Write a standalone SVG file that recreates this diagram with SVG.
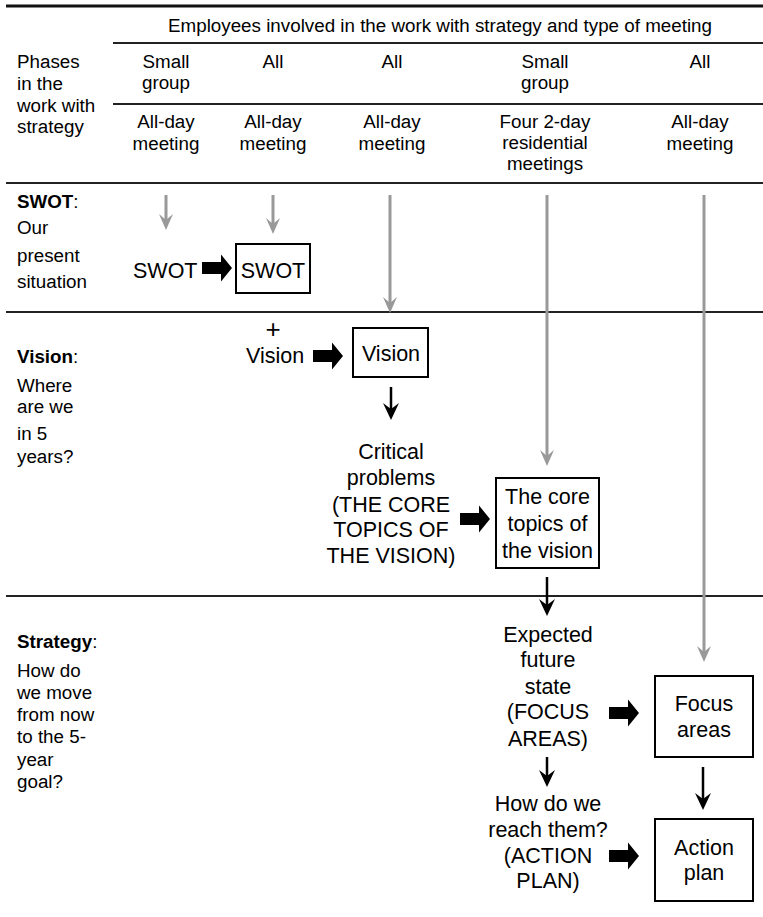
<svg xmlns="http://www.w3.org/2000/svg" width="763" height="917" viewBox="0 0 763 917">
<style>
text{font-family:"Liberation Sans",Arial,sans-serif;fill:#000}
.h{font-size:18.8px}
.b{font-size:21.5px}
.p{font-size:26px}
.m{text-anchor:middle}
.rule{stroke:#222;stroke-width:2;fill:none}
.box{fill:#fff;stroke:#000;stroke-width:2}
.g{stroke:#999;stroke-width:3;fill:none;marker-end:url(#gh)}
.k{stroke:#000;stroke-width:2.5;fill:none;marker-end:url(#kh)}
.blk{fill:#000}
</style>
<defs>
<marker id="gh" markerUnits="userSpaceOnUse" viewBox="0 0 16 14" refX="6" refY="7" markerWidth="16" markerHeight="14" orient="auto">
<path d="M0,0 L16,7 L0,14 L6,7 Z" fill="#999"/>
</marker>
<marker id="kh" markerUnits="userSpaceOnUse" viewBox="0 0 17 16" refX="6" refY="8" markerWidth="17" markerHeight="16" orient="auto">
<path d="M0,0 L17,8 L0,16 L6,8 Z" fill="#000"/>
</marker>
<path id="ba" d="M0,-6 H19 V-13.5 L30,0 L19,13.5 V6 H0 Z"/>
</defs>

<g id="grid">
<line x1="6" y1="6" x2="763" y2="6" stroke="#111" stroke-width="3"/>
<line class="rule" x1="113" y1="43" x2="763" y2="43"/>
<line class="rule" x1="113" y1="104" x2="763" y2="104"/>
<line class="rule" x1="6" y1="183" x2="763" y2="183"/>
<line class="rule" x1="6" y1="312" x2="763" y2="312"/>
<line class="rule" x1="6" y1="596" x2="763" y2="596"/>
</g>

<g id="header">
<text class="h m" x="440" y="32">Employees involved in the work with strategy and type of meeting</text>
<text class="h" x="17" y="68">Phases</text>
<text class="h" x="17" y="90">in the</text>
<text class="h" x="17" y="112">work with</text>
<text class="h" x="17" y="133">strategy</text>
<text class="h m" x="166" y="68">Small</text>
<text class="h m" x="166" y="89">group</text>
<text class="h m" x="273" y="68">All</text>
<text class="h m" x="392" y="68">All</text>
<text class="h m" x="545" y="68">Small</text>
<text class="h m" x="545" y="89">group</text>
<text class="h m" x="700" y="68">All</text>
<text class="h m" x="166" y="128">All-day</text>
<text class="h m" x="166" y="150">meeting</text>
<text class="h m" x="273" y="128">All-day</text>
<text class="h m" x="273" y="150">meeting</text>
<text class="h m" x="392" y="128">All-day</text>
<text class="h m" x="392" y="150">meeting</text>
<text class="h m" x="545" y="128">Four 2-day</text>
<text class="h m" x="545" y="149">residential</text>
<text class="h m" x="545" y="170">meetings</text>
<text class="h m" x="700" y="128">All-day</text>
<text class="h m" x="700" y="150">meeting</text>
</g>

<g id="phase-swot">
<text class="h" x="17" y="208"><tspan font-weight="bold">SWOT</tspan>:</text>
<text class="h" x="17" y="234">Our</text>
<text class="h" x="17" y="262">present</text>
<text class="h" x="17" y="288">situation</text>
</g>
<g id="phase-vision">
<text class="h" x="17" y="363"><tspan font-weight="bold">Vision</tspan>:</text>
<text class="h" x="17" y="392">Where</text>
<text class="h" x="17" y="413">are we</text>
<text class="h" x="17" y="440">in 5</text>
<text class="h" x="17" y="463">years?</text>
</g>
<g id="phase-strategy">
<text class="h" x="17" y="648"><tspan font-weight="bold">Strategy</tspan>:</text>
<text class="h" x="17" y="677">How do</text>
<text class="h" x="17" y="699">we move</text>
<text class="h" x="17" y="721">from now</text>
<text class="h" x="17" y="743">to the 5-</text>
<text class="h" x="17" y="766">year</text>
<text class="h" x="17" y="788">goal?</text>
</g>

<g id="swot-input"><text class="b" x="133" y="278">SWOT</text></g>
<g id="swot-box"><rect class="box" x="236" y="244" width="74" height="49"/><text class="b m" x="273" y="278">SWOT</text></g>
<g id="vision-input"><text class="p m" x="273" y="338">+</text><text class="b" x="246" y="363">Vision</text></g>
<g id="vision-box"><rect class="box" x="353" y="328" width="75" height="49"/><text class="b m" x="391" y="361">Vision</text></g>
<g id="critical">
<text class="b m" x="391" y="459">Critical</text>
<text class="b m" x="391" y="485">problems</text>
<text class="b m" x="391" y="512">(THE CORE</text>
<text class="b m" x="391" y="537">TOPICS OF</text>
<text class="b m" x="391" y="563">THE VISION)</text>
</g>
<g id="core-box"><rect class="box" x="496" y="478" width="103" height="90"/>
<text class="b m" x="547.5" y="504">The core</text>
<text class="b m" x="547.5" y="531">topics of</text>
<text class="b m" x="547.5" y="558">the vision</text>
</g>
<g id="expected">
<text class="b m" x="548" y="642">Expected</text>
<text class="b m" x="548" y="667">future</text>
<text class="b m" x="548" y="694">state</text>
<text class="b m" x="548" y="719">(FOCUS</text>
<text class="b m" x="548" y="746">AREAS)</text>
</g>
<g id="reach">
<text class="b m" x="548" y="811">How do we</text>
<text class="b m" x="548" y="837">reach them?</text>
<text class="b m" x="548" y="863">(ACTION</text>
<text class="b m" x="548" y="888">PLAN)</text>
</g>
<g id="focus-box"><rect class="box" x="655" y="676" width="98" height="81"/>
<text class="b m" x="704" y="711">Focus</text>
<text class="b m" x="704" y="737">areas</text>
</g>
<g id="action-box"><rect class="box" x="655" y="819" width="98" height="82"/>
<text class="b m" x="704" y="855">Action</text>
<text class="b m" x="704" y="880">plan</text>
</g>

<g id="connectors">
<line class="g" x1="166" y1="195" x2="166" y2="220"/>
<line class="g" x1="273" y1="195" x2="273" y2="224"/>
<line class="g" x1="390" y1="195" x2="390" y2="303"/>
<line class="g" x1="547" y1="195" x2="547" y2="456"/>
<line class="g" x1="704" y1="195" x2="704" y2="652"/>
<line class="k" x1="391" y1="387" x2="391" y2="409"/>
<line class="k" x1="547" y1="577" x2="547" y2="605"/>
<line class="k" x1="547" y1="757" x2="547" y2="776"/>
<line class="k" x1="703" y1="767" x2="703" y2="799"/>
<use href="#ba" class="blk" transform="translate(202,268)"/>
<use href="#ba" class="blk" transform="translate(313,356)"/>
<use href="#ba" class="blk" transform="translate(460,519)"/>
<use href="#ba" class="blk" transform="translate(609,713)"/>
<use href="#ba" class="blk" transform="translate(609,856)"/>
</g>
</svg>
